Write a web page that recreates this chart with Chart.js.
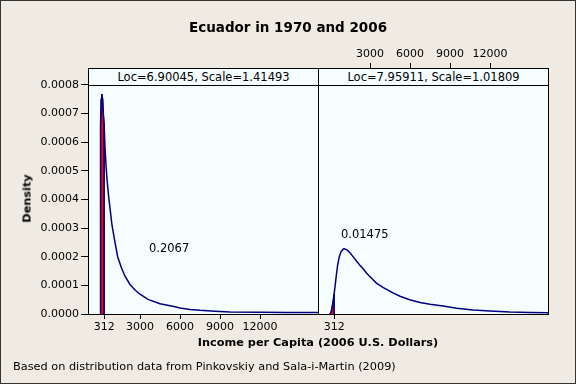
<!DOCTYPE html>
<html><head><meta charset="utf-8">
<script src="https://cdn.jsdelivr.net/npm/chart.js@4/dist/chart.umd.min.js"></script>
<style>
html,body{margin:0;padding:0;background:#fff}
#wrap{position:relative;width:576px;height:384px;background:#EFEBE2;overflow:hidden;font-family:"DejaVu Sans",sans-serif;color:#000}
#frame{position:absolute;left:0;top:0;width:574px;height:382px;border:1px solid #333;z-index:6;pointer-events:none}
.abs{position:absolute;white-space:nowrap;z-index:4}
.plotbg{position:absolute;background:#F5FDFE;z-index:1}
canvas{position:absolute;left:0;top:0;z-index:2}
.box{position:absolute;border:1px solid #000;z-index:3;box-sizing:border-box}
.strip{position:absolute;border:1px solid #000;background:#F5FDFE;z-index:3;box-sizing:border-box;text-align:center;font-size:11.5px;line-height:16px}
</style></head>
<body>
<div id="wrap">
  <div class="plotbg" style="left:88px;top:68px;width:461px;height:247px"></div>
  <canvas id="cL" width="576" height="384"></canvas>
  <canvas id="cR" width="576" height="384"></canvas>
  <div class="box" style="left:88px;top:85px;width:231px;height:230px"></div>
  <div class="box" style="left:318px;top:85px;width:231px;height:230px"></div>
  <div class="strip" style="left:88px;top:68px;width:231px;height:18px">Loc=6.90045, Scale=1.41493</div>
  <div class="strip" style="left:318px;top:68px;width:231px;height:18px">Loc=7.95911, Scale=1.01809</div>
  <div class="abs" style="left:0;width:576px;top:19px;text-align:center;font-weight:bold;font-size:13.5px">Ecuador in 1970 and 2006</div>
  <div class="abs" style="left:88px;width:460px;top:336px;text-align:center;font-weight:bold;font-size:11.3px">Income per Capita (2006 U.S. Dollars)</div>
  <div class="abs" style="left:13px;top:360px;font-size:11.3px">Based on distribution data from Pinkovskiy and Sala-i-Martin (2009)</div>
  <div class="abs" style="left:-23px;top:192px;width:100px;text-align:center;font-weight:bold;font-size:11.3px;transform:rotate(-90deg)">Density</div>
  <div class="abs" style="left:149px;top:241px;font-size:11.5px">0.2067</div>
  <div class="abs" style="left:341px;top:227px;font-size:11.5px">0.01475</div>
  <div id="frame"></div>
</div>
<script>
const xMin = -900, xMax = 16350, yMin = 0, yMax = 0.000859;

const leftIncome  = [0, 20, 40, 60, 90, 134, 200, 250, 312, 375, 450, 525, 650, 750, 900, 1125, 1325, 1600, 1875, 2250, 2625, 3000, 3600, 4500, 5625, 6000, 6750, 7500, 8625, 9750, 12000, 14000, 16350];
const leftDensity = [0, 0.00030, 0.00053, 0.00066, 0.00075, 0.000768, 0.00075, 0.00070, 0.00066, 0.00058, 0.00052, 0.00047, 0.00041, 0.00037, 0.00031, 0.00025, 0.00020, 0.000162, 0.000132, 0.000103, 0.000084, 0.000069, 0.000051, 0.000036, 0.000025, 0.000021, 0.000016, 0.000013, 0.000010, 0.000007, 0.000006, 0.0000055, 0.000005];

const leftShadeIncome  = [0, 20, 40, 60, 90, 134, 200, 250, 312, 312];
const leftShadeDensity = [0, 0.00030, 0.00053, 0.00066, 0.00075, 0.000768, 0.00075, 0.00070, 0.00066, 0];

const rightIncome  = [0, 100, 200, 250, 312, 375, 450, 577, 700, 825, 1000, 1080, 1300, 1500, 1800, 2000, 2228, 2500, 2800, 3100, 3480, 4000, 4725, 5250, 5978, 6750, 7500, 8475, 9500, 10725, 12000, 13478, 15000, 16350];
const rightDensity = [0, 0.000010, 0.000035, 0.000050, 0.000070, 0.000095, 0.000125, 0.000172, 0.000200, 0.000217, 0.000227, 0.000228, 0.000223, 0.000214, 0.000196, 0.000184, 0.000171, 0.000157, 0.000140, 0.000126, 0.000108, 0.000092, 0.0000735, 0.000062, 0.000050, 0.000040, 0.000034, 0.000028, 0.000020, 0.000014, 0.0000105, 0.000007, 0.0000055, 0.0000045];

const rightShadeIncome  = [0, 100, 200, 250, 312, 312];
const rightShadeDensity = [0, 0.000010, 0.000035, 0.000050, 0.000070, 0];

const yTicks = [0, 0.0001, 0.0002, 0.0003, 0.0004, 0.0005, 0.0006, 0.0007, 0.0008];
const leftXTicks = [312, 3000, 6000, 9000, 12000];
const rightBottomTicks = [312];
const rightTopTicks = [3000, 6000, 9000, 12000];

const NAVY = '#000080', RED = '#FF0000';
const tickFont = {family: 'DejaVu Sans', size: 11};

function pts(xs, ys) { return xs.map((x, i) => ({x: x, y: ys[i]})); }
function fixTicks(arr) { return s => { s.ticks = arr.map(v => ({value: v})); }; }

function curve(xs, ys) {
  return {data: pts(xs, ys), showLine: true, borderColor: NAVY, borderWidth: 1.5, pointRadius: 0, tension: 0, fill: false, order: 0};
}
function shade(xs, ys) {
  return {data: pts(xs, ys), showLine: true, borderColor: NAVY, borderWidth: 1, backgroundColor: RED, pointRadius: 0, tension: 0, fill: 'origin', order: 1};
}
function xAxis(pos, ticksArr, h) {
  return {
    type: 'linear', position: pos, axis: 'x', min: xMin, max: xMax,
    afterBuildTicks: fixTicks(ticksArr),
    ticks: {autoSkip: false, maxRotation: 0, color: '#000', font: tickFont, padding: 2, callback: v => String(v)},
    grid: {drawOnChartArea: false, drawTicks: true, tickLength: 5, color: '#000'},
    border: {display: false},
    afterFit: s => { s.height = h; }
  };
}
const common = {
  responsive: false, animation: false, devicePixelRatio: 1,
  plugins: {legend: {display: false}, tooltip: {enabled: false}}
};

new Chart(document.getElementById('cL'), {
  type: 'scatter',
  data: {datasets: [curve(leftIncome, leftDensity), shade(leftShadeIncome, leftShadeDensity)]},
  options: Object.assign({}, common, {
    layout: {padding: {left: 0, top: 68, right: 258, bottom: 40}},
    scales: {
      x: xAxis('bottom', leftXTicks, 30),
      y: {
        type: 'linear', position: 'left', min: yMin, max: yMax,
        afterBuildTicks: fixTicks(yTicks),
        ticks: {color: '#000', font: tickFont, padding: 2, callback: v => Number(v).toFixed(4)},
        grid: {drawOnChartArea: false, tickLength: 7, color: '#000'},
        border: {display: false},
        afterFit: s => { s.width = 88; }
      }
    }
  })
});

new Chart(document.getElementById('cR'), {
  type: 'scatter',
  data: {datasets: [curve(rightIncome, rightDensity), shade(rightShadeIncome, rightShadeDensity)]},
  options: Object.assign({}, common, {
    layout: {padding: {left: 318, top: 48, right: 28, bottom: 40}},
    scales: {
      x: xAxis('bottom', rightBottomTicks, 30),
      x2: xAxis('top', rightTopTicks, 20),
      y: {type: 'linear', display: false, min: yMin, max: yMax}
    }
  })
});
</script>
</body></html>
